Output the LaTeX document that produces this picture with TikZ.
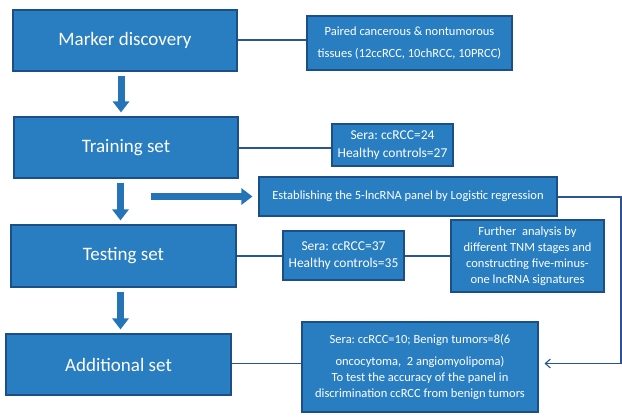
\documentclass[tikz,border=0pt]{standalone}
\usepackage{fontspec}
\setmainfont{Carlito}
\usetikzlibrary{arrows.meta}
\frenchspacing
\definecolor{boxblue}{RGB}{41,126,194}
\definecolor{boxedge}{RGB}{28,78,136}
\definecolor{linecol}{RGB}{42,84,148}
\definecolor{arrcol}{RGB}{38,116,184}
\tikzset{
  bigbox/.style={draw=boxedge, fill=boxblue, line width=1.1pt, text=white,
    font=\fontsize{19}{23}\selectfont, minimum height=61pt, inner sep=0pt},
  smallbox/.style={draw=boxedge, fill=boxblue, line width=1.1pt, text=white,
    font=\frenchspacing\fontsize{12.5}{16}\selectfont, align=center, inner sep=0pt},
  serabox/.style={smallbox, font=\frenchspacing\fontsize{13.5}{17.5}\selectfont},
  conn/.style={draw=linecol, line width=1.1pt},
  blockarrow/.style={draw=arrcol, line width=7pt, -{Triangle[width=16pt,length=11pt]}},
}
\begin{document}
\begin{tikzpicture}[x=1pt,y=1pt]
\useasboundingbox[fill=white] (0,0) rectangle (622,-416);

% main boxes
\node[bigbox, minimum width=224pt] (md) at (125,-40.5) {Marker discovery};
\node[bigbox, minimum width=224pt] (tr) at (126,-147.5) {Training set};
\node[bigbox, minimum width=225pt, minimum height=62pt] (te) at (123.5,-256) {Testing set};
\node[bigbox, minimum width=225pt] (ad) at (118.5,-364.5) {Additional set};

% side boxes
\node[smallbox, minimum width=205pt, minimum height=54pt] (pa) at (409.5,-43)
  {Paired cancerous \& nontumorous\\[6pt]tissues (12ccRCC, 10chRCC, 10PRCC)};
\node[serabox, minimum width=121pt, minimum height=42pt] (str) at (392.5,-145)
  {Sera: ccRCC=24\\Healthy controls=27};
\node[smallbox, minimum width=298pt, minimum height=39pt] (es) at (408,-196.5)
  {Establishing the 5-lncRNA panel by Logistic regression};
\node[serabox, minimum width=121pt, minimum height=49pt] (ste) at (343.5,-255.5)
  {Sera: ccRCC=37\\Healthy controls=35};
\node[smallbox, minimum width=153pt, minimum height=72pt] (fu) at (527.5,-256)
  {Further\ \ analysis by\\different TNM stages and\\constructing five-minus-\\one lncRNA signatures};
\node[smallbox, minimum width=236pt, minimum height=90pt] (sad) at (420,-367)
  {Sera: ccRCC=10; Benign tumors=8(6\\[6pt]oncocytoma,\ \ 2 angiomyolipoma)\\To test the accuracy of the panel in\\discrimination ccRCC from benign tumors};

% thin connectors
\draw[conn] (md.east |- 0,-40) -- (pa.west |- 0,-40);
\draw[conn] (tr.east |- 0,-148) -- (str.west |- 0,-148);
\draw[conn] (te.east) -- (ste.west |- te.east);
\draw[conn] (ste.east |- te.east) -- (fu.west |- te.east);
\draw[conn] (ad.east |- 0,-363.5) -- (sad.west |- 0,-363.5);
\coordinate (rt) at (621,-197);
\coordinate (rb) at (621,-363.5);
\draw[conn, -{Straight Barb[length=5pt,width=9pt]}, shorten >=6pt]
  (es.east |- rt) -- (rt) -- (rb) -- (sad.east |- rb);

% block arrows
\draw[blockarrow, shorten <=4pt, shorten >=4pt] ([xshift=-4pt]md.south) -- ([xshift=-5pt]tr.north);
\draw[blockarrow, shorten <=4pt, shorten >=4pt] ([xshift=-5.5pt]tr.south) -- ([xshift=-3pt]te.north);
\draw[blockarrow, shorten <=4pt, shorten >=4pt] ([xshift=-3pt]te.south) -- ([xshift=2pt]ad.north);
\coordinate (hs) at (151,-196.5);
\draw[blockarrow, shorten >=6pt] (hs) -- (es.west);
\end{tikzpicture}
\end{document}
